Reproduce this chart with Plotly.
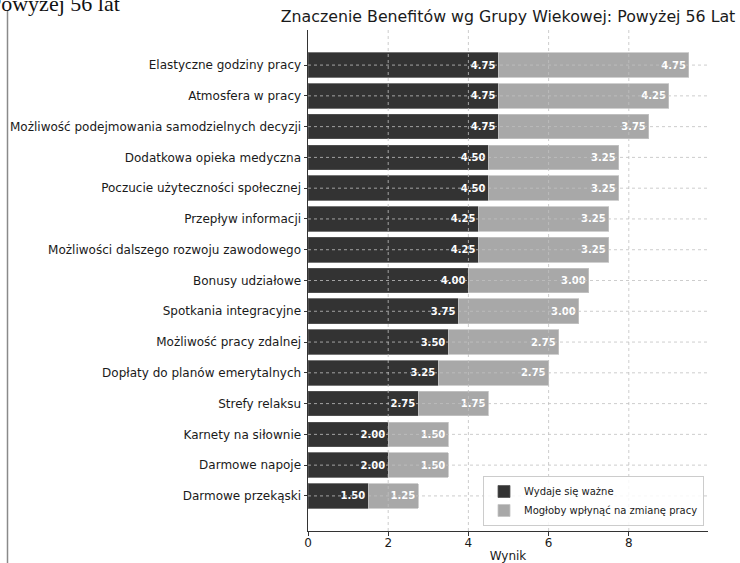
import plotly.graph_objects as go

categories = [
    "Elastyczne godziny pracy",
    "Atmosfera w pracy",
    "Możliwość podejmowania samodzielnych decyzji",
    "Dodatkowa opieka medyczna",
    "Poczucie użyteczności społecznej",
    "Przepływ informacji",
    "Możliwości dalszego rozwoju zawodowego",
    "Bonusy udziałowe",
    "Spotkania integracyjne",
    "Możliwość pracy zdalnej",
    "Dopłaty do planów emerytalnych",
    "Strefy relaksu",
    "Karnety na siłownie",
    "Darmowe napoje",
    "Darmowe przekąski",
]
important = [4.75, 4.75, 4.75, 4.50, 4.50, 4.25, 4.25, 4.00, 3.75, 3.50, 3.25, 2.75, 2.00, 2.00, 1.50]
change_job = [4.75, 4.25, 3.75, 3.25, 3.25, 3.25, 3.25, 3.00, 3.00, 2.75, 2.75, 1.75, 1.50, 1.50, 1.25]
series_names = ["Wydaje się ważne", "Mogłoby wpłynąć na zmianę pracy"]
x_ticks = [0, 2, 4, 6, 8]

title = "Znaczenie Benefitów wg Grupy Wiekowej: Powyżej 56 Lat"
clipped_heading = "Powyżej 56 lat"

FONT = "DejaVu Sans"
TXT = "#1a1a1a"

fig = go.Figure()
fig.add_trace(go.Bar(
    y=categories, x=important, orientation="h", name=series_names[0],
    marker=dict(color="#333333", line=dict(color="#555555", width=0.8)),
    text=[f"{v:.2f}" for v in important], textposition="inside",
    insidetextanchor="end", textangle=0, constraintext="none",
    textfont=dict(family=FONT, size=10, color="white", weight="bold"),
))
fig.add_trace(go.Bar(
    y=categories, x=change_job, orientation="h", name=series_names[1],
    marker=dict(color="#a8a8a8", line=dict(color="#c4c4c4", width=0.8)),
    text=[f"{v:.2f}" for v in change_job], textposition="inside",
    insidetextanchor="end", textangle=0, constraintext="none",
    textfont=dict(family=FONT, size=10, color="white", weight="bold"),
))

shapes = []
grid = dict(color="#c0c0c0", width=0.8, dash="dot")
for c in categories:
    shapes.append(dict(type="line", xref="paper", yref="y", x0=0, x1=1, y0=c, y1=c,
                       line=grid, layer="above"))
for t in x_ticks[1:]:
    shapes.append(dict(type="line", xref="x", yref="paper", x0=t, x1=t, y0=0, y1=1,
                       line=grid, layer="above"))
# left page border line
shapes.append(dict(type="line", xref="paper", yref="paper", x0=(7.5 - 308) / 400, x1=(7.5 - 308) / 400,
                   y0=(531 - 566) / 501, y1=(531 - 10) / 501, line=dict(color="#8a8a8a", width=1.5)))

n = len(categories)
fig.update_layout(
    width=740, height=563,
    margin=dict(l=308, r=32, t=30, b=32, autoexpand=False),
    paper_bgcolor="white", plot_bgcolor="white",
    barmode="stack", bargap=0.2,
    font=dict(family=FONT, size=12, color=TXT),
    title=dict(text=title, x=0.5, xref="paper", xanchor="center",
               y=1 - 16 / 563, yref="container", yanchor="middle",
               font=dict(family=FONT, size=15.8, color=TXT)),
    xaxis=dict(range=[0, 9.975], tickvals=x_ticks, ticks="outside", ticklen=3.5,
               tickcolor="#333", showline=True, linecolor="#333", linewidth=1,
               showgrid=False, zeroline=False, automargin=False, ticklabelstandoff=-3,
               title=dict(text="Wynik", font=dict(size=12)),
               tickfont=dict(size=12)),
    yaxis=dict(type="category", categoryorder="array", categoryarray=categories,
               range=[n - 1 + 1.14, -1.14], ticks="outside", ticklen=3.5,
               tickcolor="#333", showline=True, linecolor="#333", linewidth=1,
               showgrid=False, zeroline=False, automargin=False, tickfont=dict(size=12)),
    legend=dict(x=0.99, y=0.01, xanchor="right", yanchor="bottom",
                bgcolor="rgba(255,255,255,0.85)", bordercolor="#cccccc", borderwidth=1,
                traceorder="normal", itemwidth=30, tracegroupgap=0,
                font=dict(size=10, color=TXT)),
    showlegend=True,
    shapes=shapes,
    annotations=[dict(text=clipped_heading, xref="paper", yref="paper",
                      x=(-13 - 308) / 400, y=(531 - 18) / 501, xanchor="left", yanchor="bottom",
                      showarrow=False,
                      font=dict(family="Liberation Serif", size=22, color="#111"))],
)

fig.write_html("out.html")
